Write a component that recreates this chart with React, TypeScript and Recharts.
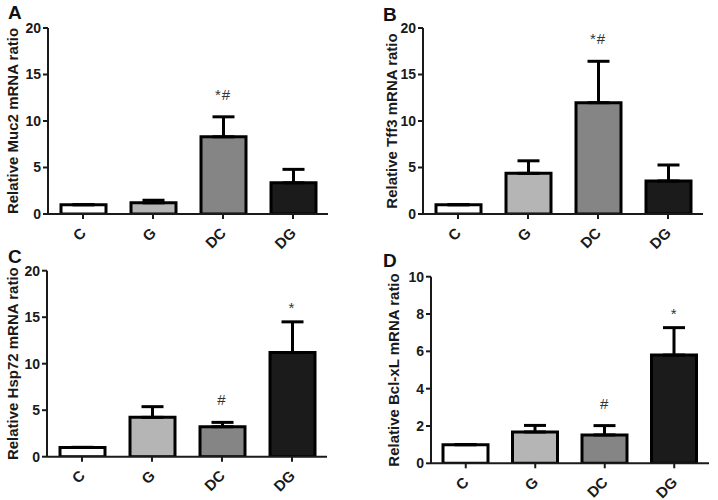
import React from "react";
import {
  ComposedChart,
  Bar,
  Cell,
  Line,
  XAxis,
  YAxis,
  ErrorBar,
  LabelList,
} from "recharts";

const groups = ["C", "G", "DC", "DG"];
const barColors = ["#ffffff", "#b5b5b5", "#858585", "#1b1b1b"];

const muc2Mean = [1.0, 1.2, 8.3, 3.35];
const muc2Err = [0, 0.28, 2.15, 1.45];
const muc2Note = ["", "", "*#", ""];

const tff3Mean = [1.0, 4.37, 11.97, 3.55];
const tff3Err = [0, 1.35, 4.45, 1.72];
const tff3Note = ["", "", "*#", ""];

const hsp72Mean = [1.0, 4.23, 3.22, 11.2];
const hsp72Err = [0, 1.15, 0.47, 3.3];
const hsp72Note = ["", "", "#", "*"];

const bclMean = [1.0, 1.68, 1.52, 5.8];
const bclErr = [0, 0.35, 0.5, 1.47];
const bclNote = ["", "", "#", "*"];

const ticks20 = [0, 5, 10, 15, 20];
const ticks10 = [0, 2, 4, 6, 8, 10];

const FONT = "'Liberation Sans', Arial, sans-serif";
const INK = "#1a1a1a";

type PanelProps = {
  means: number[];
  errs: number[];
  notes: string[];
  ticks: number[];
  yLabel: string;
  axisLeft: number;
  axisRight: number;
  plotTop: number;
  plotBottom: number;
  labelX: number;
};

const W = 359;
const H = 264;
const XH = 36;

const XTick = (props: any) => {
  const { x, y, payload } = props;
  return (
    <text
      transform={`translate(${x + 4},${y + 13}) rotate(-45)`}
      textAnchor="end"
      fontSize={15}
      fontWeight="bold"
      fontFamily={FONT}
      fill={INK}
    >
      {payload.value}
    </text>
  );
};

const NoteLabel = (props: any) => {
  const { x, y, value } = props;
  if (!value) return null;
  const gap = value.indexOf("#") >= 0 ? 17 : 9;
  return (
    <text
      x={x}
      y={y - gap}
      textAnchor="middle"
      fontSize={15}
      letterSpacing={1}
      fontFamily={FONT}
      fill="#333"
    >
      {value}
    </text>
  );
};

const Panel: React.FC<PanelProps> = (p) => {
  const data = groups.map((g, i) => ({
    name: g,
    value: p.means[i],
    err: [0, p.errs[i]],
    top: p.means[i] + p.errs[i],
    note: p.notes[i],
  }));
  const mid = (p.plotTop + p.plotBottom) / 2;
  const max = p.ticks[p.ticks.length - 1];

  return (
    <ComposedChart
      width={W}
      height={H}
      data={data}
      margin={{ top: p.plotTop, right: W - p.axisRight, left: 0, bottom: H - p.plotBottom - XH }}
    >
      <XAxis
        dataKey="name"
        height={XH}
        axisLine={{ stroke: INK, strokeWidth: 2 }}
        tickLine={{ stroke: INK, strokeWidth: 2 }}
        tickSize={5}
        tickMargin={2}
        tick={<XTick />}
        interval={0}
      />
      <YAxis
        width={p.axisLeft}
        domain={[0, max]}
        ticks={p.ticks}
        allowDataOverflow
        axisLine={{ stroke: INK, strokeWidth: 2 }}
        tickLine={{ stroke: INK, strokeWidth: 2 }}
        tickSize={5}
        tickMargin={2}
        tick={{ fontSize: 14, fontWeight: "bold", fill: INK, fontFamily: FONT }}
        label={() => (
          <text
            x={p.labelX}
            y={mid}
            transform={`rotate(-90, ${p.labelX}, ${mid})`}
            textAnchor="middle"
            dominantBaseline="central"
            fontSize={15}
            fontWeight="bold"
            fontFamily={FONT}
            fill={INK}
          >
            {p.yLabel}
          </text>
        )}
      />
      <Bar dataKey="value" barSize={45} stroke="#000" strokeWidth={3} isAnimationActive={false}>
        {data.map((d, i) => (
          <Cell key={d.name} fill={barColors[i]} />
        ))}
        <ErrorBar dataKey="err" width={11} stroke="#000" strokeWidth={3} direction="y" isAnimationActive={false} />
      </Bar>
      <Line
        dataKey="top"
        stroke="none"
        dot={false}
        activeDot={false}
        isAnimationActive={false}
        legendType="none"
      >
        <LabelList dataKey="note" content={<NoteLabel />} />
      </Line>
    </ComposedChart>
  );
};

const letters = [
  { t: "A", x: 8, y: 18.5 },
  { t: "B", x: 383, y: 21 },
  { t: "C", x: 8, y: 263 },
  { t: "D", x: 383, y: 267 },
];

export default function App() {
  return (
    <div
      style={{
        position: "absolute",
        left: 0,
        top: 0,
        width: 718,
        height: 500,
        background: "#fff",
        overflow: "hidden",
      }}
    >
      <div style={{ position: "absolute", left: 0, top: 0 }}>
        <Panel
          means={muc2Mean}
          errs={muc2Err}
          notes={muc2Note}
          ticks={ticks20}
          yLabel="Relative Muc2 mRNA ratio"
          axisLeft={48}
          axisRight={328}
          plotTop={28}
          plotBottom={214}
          labelX={12}
        />
      </div>
      <div style={{ position: "absolute", left: 359, top: 0 }}>
        <Panel
          means={tff3Mean}
          errs={tff3Err}
          notes={tff3Note}
          ticks={ticks20}
          yLabel="Relative Tff3 mRNA ratio"
          axisLeft={64}
          axisRight={344}
          plotTop={28}
          plotBottom={214}
          labelX={32}
        />
      </div>
      <div style={{ position: "absolute", left: 0, top: 250 }}>
        <Panel
          means={hsp72Mean}
          errs={hsp72Err}
          notes={hsp72Note}
          ticks={ticks20}
          yLabel="Relative Hsp72 mRNA ratio"
          axisLeft={47}
          axisRight={327}
          plotTop={20.7}
          plotBottom={206.7}
          labelX={13}
        />
      </div>
      <div style={{ position: "absolute", left: 359, top: 250 }}>
        <Panel
          means={bclMean}
          errs={bclErr}
          notes={bclNote}
          ticks={ticks10}
          yLabel="Relative Bcl-xL mRNA ratio"
          axisLeft={72}
          axisRight={350}
          plotTop={26.7}
          plotBottom={213.3}
          labelX={34}
        />
      </div>
      <svg width={718} height={500} style={{ position: "absolute", left: 0, top: 0, pointerEvents: "none" }}>
        {letters.map((l) => (
          <text key={l.t} x={l.x} y={l.y} fontSize={19} fontWeight="bold" fontFamily={FONT} fill="#111">
            {l.t}
          </text>
        ))}
      </svg>
    </div>
  );
}
